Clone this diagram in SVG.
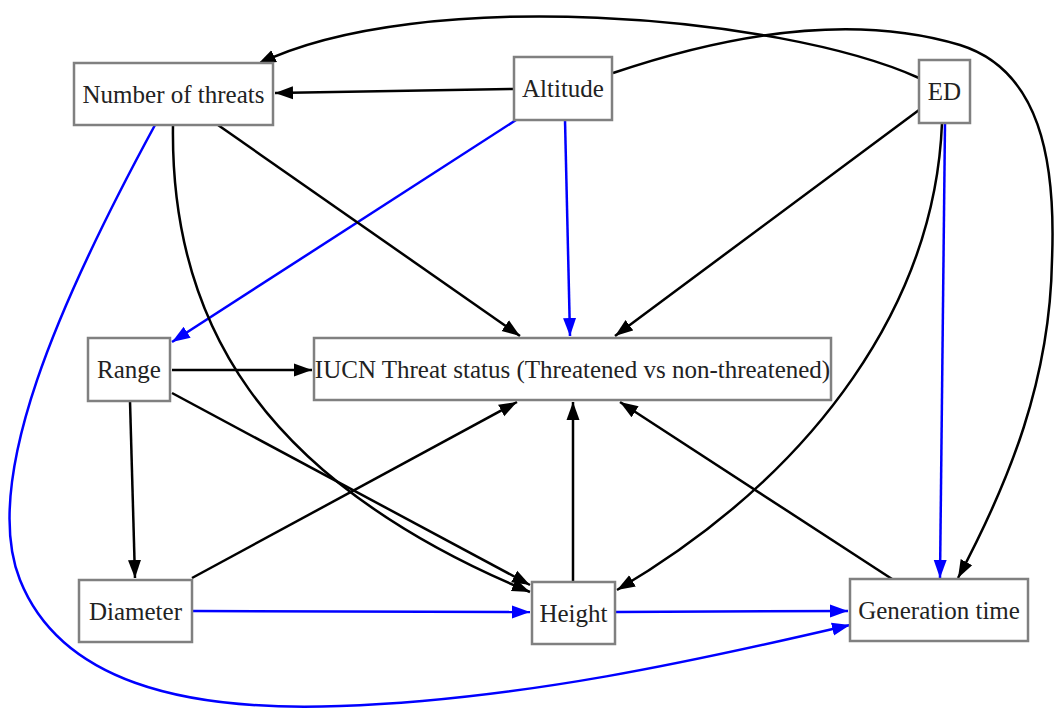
<svg xmlns="http://www.w3.org/2000/svg" width="1056" height="709" viewBox="0 0 1056 709">
<style>
.box{fill:#fff;stroke:#808080;stroke-width:2.5}
.lbl{font-size:25px;fill:#222;text-anchor:middle}
.e{fill:none;stroke:#000;stroke-width:2.5}
.eb{fill:none;stroke:#0000ff;stroke-width:2.5}
</style>
<defs>
<marker id="ak" markerUnits="userSpaceOnUse" markerWidth="19" markerHeight="14" refX="18" refY="7" orient="auto"><path d="M0,0.5 L18,7 L0,13.5 z" fill="#000"/></marker>
<marker id="ab" markerUnits="userSpaceOnUse" markerWidth="19" markerHeight="14" refX="18" refY="7" orient="auto"><path d="M0,0.5 L18,7 L0,13.5 z" fill="#0000ff"/></marker>
</defs>
<rect width="1056" height="709" fill="#fff"/>
<g id="connectors">
<path class="e" marker-end="url(#ak)" d="M514,89 L275,93"/>
<path class="e" marker-end="url(#ak)" d="M919,78 C780,15 420,-15 258,64"/>
<path class="e" marker-end="url(#ak)" d="M613,73 C740,30 860,15 960,45 C1040,70 1056,160 1052,260 C1050,380 1010,480 958,578"/>
<path class="eb" marker-end="url(#ab)" d="M516,120 L172,342"/>
<path class="eb" marker-end="url(#ab)" d="M565,120 L570,336"/>
<path class="e" marker-end="url(#ak)" d="M218,125 L520,336"/>
<path class="e" marker-end="url(#ak)" d="M173,125 C170,320 260,480 530,592"/>
<path class="eb" marker-end="url(#ab)" d="M155,125 C60,300 -20,480 20,580 C60,680 180,712 340,706 C520,700 700,660 850,625"/>
<path class="e" marker-end="url(#ak)" d="M919,110 L615,336"/>
<path class="e" marker-end="url(#ak)" d="M942,123 C935,300 820,470 617,590"/>
<path class="eb" marker-end="url(#ab)" d="M945,123 L940,578"/>
<path class="e" marker-end="url(#ak)" d="M172,370 L312,370"/>
<path class="e" marker-end="url(#ak)" d="M130,401 L135,578"/>
<path class="e" marker-end="url(#ak)" d="M172,393 L530,585"/>
<path class="e" marker-end="url(#ak)" d="M192,578 L517,402"/>
<path class="eb" marker-end="url(#ab)" d="M192,611 L530,612"/>
<path class="e" marker-end="url(#ak)" d="M573,582 L573,402"/>
<path class="e" marker-end="url(#ak)" d="M892,579 L620,402"/>
<path class="eb" marker-end="url(#ab)" d="M615,612 L848,611"/>
</g>
<g id="node-threats"><rect class="box" x="74" y="63" width="199" height="62"/><text class="lbl" font-family="Liberation Serif, serif" x="173.5" y="103">Number of threats</text></g>
<g id="node-altitude"><rect class="box" x="514" y="57" width="98" height="63"/><text class="lbl" font-family="Liberation Serif, serif" x="563" y="97">Altitude</text></g>
<g id="node-ed"><rect class="box" x="919" y="60" width="51" height="63"/><text class="lbl" font-family="Liberation Serif, serif" x="944.5" y="100">ED</text></g>
<g id="node-range"><rect class="box" x="88" y="338" width="82" height="63"/><text class="lbl" font-family="Liberation Serif, serif" x="129" y="378">Range</text></g>
<g id="node-iucn"><rect class="box" x="314" y="338" width="517" height="62"/><text class="lbl" font-family="Liberation Serif, serif" x="572.5" y="377.5">IUCN Threat status (Threatened vs non-threatened)</text></g>
<g id="node-diameter"><rect class="box" x="79" y="580" width="113" height="62"/><text class="lbl" font-family="Liberation Serif, serif" x="135.5" y="619.5">Diameter</text></g>
<g id="node-height"><rect class="box" x="532" y="582" width="83" height="62"/><text class="lbl" font-family="Liberation Serif, serif" x="573.5" y="621.5">Height</text></g>
<g id="node-gentime"><rect class="box" x="850" y="579" width="178" height="62"/><text class="lbl" font-family="Liberation Serif, serif" x="939" y="618.5">Generation time</text></g>
</svg>
